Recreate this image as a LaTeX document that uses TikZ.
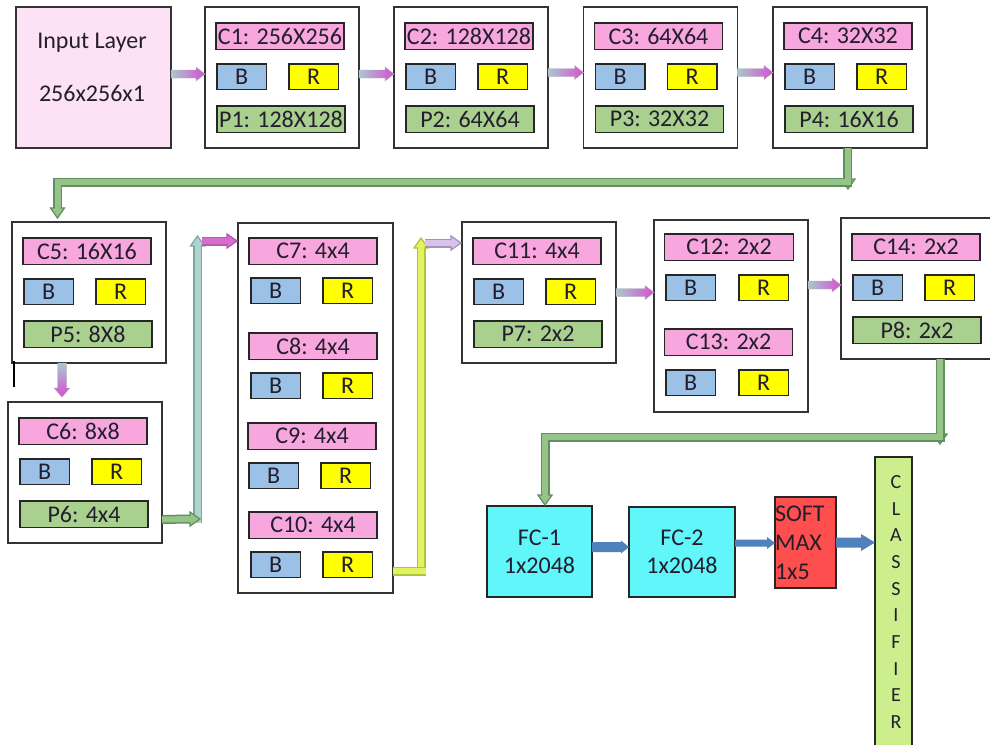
\documentclass[tikz,border=0pt]{standalone}
\usepackage{fontspec}
\setmainfont{Carlito}
\usetikzlibrary{calc}

\definecolor{inpink}{RGB}{252,226,244}
\definecolor{cpink}{RGB}{248,166,222}
\definecolor{bblue}{RGB}{155,194,230}
\definecolor{ryell}{RGB}{255,255,0}
\definecolor{pgreen}{RGB}{169,208,142}
\definecolor{fccyan}{RGB}{96,246,250}
\definecolor{smred}{RGB}{255,78,78}
\definecolor{clgreen}{RGB}{204,238,140}
\definecolor{txt}{RGB}{35,30,45}
\definecolor{arrblue}{RGB}{79,129,189}
\definecolor{gfill}{RGB}{150,195,135}
\definecolor{gdraw}{RGB}{95,145,95}
\definecolor{tfill}{RGB}{175,212,205}
\definecolor{tdraw}{RGB}{120,170,160}
\definecolor{mfill}{RGB}{215,110,205}
\definecolor{mdraw}{RGB}{185,90,175}
\definecolor{yfill}{RGB}{228,242,95}
\definecolor{ydraw}{RGB}{170,200,60}
\definecolor{lfill}{RGB}{218,195,235}
\definecolor{ldraw}{RGB}{165,145,190}
\definecolor{gradL}{RGB}{170,200,205}
\definecolor{gradR}{RGB}{212,80,212}

\tikzset{
 every node/.style={inner sep=0pt, outer sep=0pt, text=txt, font=\fontsize{24}{28}\selectfont},
 box/.style={draw=black!80, line width=1.4pt, fill=white, anchor=north west, minimum width=154pt},
 lbl/.style={draw=black!85, line width=1.1pt, anchor=north west},
 clbl/.style={lbl, fill=cpink, minimum width=128pt, minimum height=26.5pt},
 plbl/.style={lbl, fill=pgreen, minimum width=128pt, minimum height=26.5pt},
 blbl/.style={lbl, fill=bblue, minimum width=49.5pt, minimum height=25.5pt},
 rlbl/.style={lbl, fill=ryell, minimum width=49.5pt, minimum height=25.5pt},
 fcbox/.style={draw=black!85, line width=1.3pt, fill=fccyan, anchor=north west, align=center, font=\fontsize{24}{28}\selectfont},
}

\newcommand\convblk[5]{%
 \node[box, minimum height=141pt] (#1) at (#2,#3) {};
 \node[clbl] (#1c) at ($(#1.north west)+(11pt,-16pt)$) {#4};
 \node[blbl] (#1b) at ($(#1.north west)+(12pt,-57pt)$) {B};
 \node[rlbl] (#1r) at ($(#1.north west)+(84pt,-57pt)$) {R};
 \node[plbl] (#1p) at ($(#1.north west)+(12pt,-99pt)$) {#5};
}

\newcommand\garrowH[2]{%
 \shadedraw[left color=gradL, right color=gradR, draw=black!30, line width=0.4pt] let \p1=(#1), \p2=(#2) in
 (\x1,\y1+4pt) -- (\x2-9pt,\y1+4pt) -- (\x2-9pt,\y1+7pt) -- (\x2,\y1) -- (\x2-9pt,\y1-7pt) -- (\x2-9pt,\y1-4pt) -- (\x1,\y1-4pt) -- cycle;}

\newcommand\garrowV[2]{%
 \shadedraw[top color=gradL, bottom color=gradR, draw=black!30, line width=0.4pt] let \p1=(#1), \p2=(#2) in
 (\x1-4.5pt,\y1) -- (\x1-4.5pt,\y2+9pt) -- (\x1-8pt,\y2+9pt) -- (\x1,\y2) -- (\x1+8pt,\y2+9pt) -- (\x1+4.5pt,\y2+9pt) -- (\x1+4.5pt,\y1) -- cycle;}

\newcommand\bline[3]{\draw[line width=9pt,#1] #3; \draw[line width=6pt,#2] #3;}

\newcommand\bhead[4]{%
 \fill[#3,shift={(#1)},rotate=#2] (0.5pt,0) -- (-10pt,7.5pt) -- (-10pt,-7.5pt) -- cycle;
 \draw[#4,line width=1.2pt,line join=miter,shift={(#1)},rotate=#2] (-10pt,3pt) -- (-10pt,7pt) -- (0,0) -- (-10pt,-7pt) -- (-10pt,-3pt);}

\newcommand\barrow[5]{%
 \fill[arrblue] let \p1=(#1), \p2=(#2) in (\x1,\y1+#3) -- (\x2-#5,\y1+#3) -- (\x2-#5,\y1+#4) -- (\x2,\y1) -- (\x2-#5,\y1-#4) -- (\x2-#5,\y1-#3) -- (\x1,\y1-#3) -- cycle;}

\begin{document}
\begin{tikzpicture}[x=1pt,y=-1pt]
\useasboundingbox (0,0) rectangle (990,744);
\fill[white] (0,0) rectangle (990,744);
\clip (0,0) rectangle (990,744);

% top row
\node[box, fill=inpink, minimum width=155pt, minimum height=141pt] (inp) at (16,7) {};
\node (inpt1) at (92,43) {Input Layer};
\node (inpt2) at (92,93) {256x256x1};
\convblk{b1}{205}{7}{C1: 256X256}{P1: 128X128}
\convblk{b2}{394}{7}{C2: 128X128}{P2: 64X64}
\convblk{b3}{583.5}{7}{C3: 64X64}{P3: 32X32}
\convblk{b4}{773}{7}{C4: 32X32}{P4: 16X16}

% left column
\convblk{b5}{12}{222}{C5: 16X16}{P5: 8X8}
\convblk{b6}{8}{402}{C6: 8x8}{P6: 4x4}
\draw[line width=1.8pt, black] (14,361) -- (14,387);

% box 7
\node[box, minimum width=155pt, minimum height=370pt] (b7) at (238,223) {};
\node[clbl] (c7) at (249,238) {C7: 4x4};
\node[blbl] (c7b) at (251,278) {B};
\node[rlbl] (c7r) at (323,278) {R};
\node[clbl] (c8) at (249,333) {C8: 4x4};
\node[blbl] (c8b) at (251,373) {B};
\node[rlbl] (c8r) at (323,373) {R};
\node[clbl] (c9) at (248,423) {C9: 4x4};
\node[blbl] (c9b) at (249,463) {B};
\node[rlbl] (c9r) at (321,463) {R};
\node[clbl] (c10) at (249,512) {C10: 4x4};
\node[blbl] (c10b) at (251,552) {B};
\node[rlbl] (c10r) at (323,552) {R};

% box 11, 12, 14
\convblk{b11}{462}{222}{C11: 4x4}{P7: 2x2}
\node[box, minimum height=192pt] (b12) at (654,220) {};
\node[clbl, minimum width=129pt] (c12) at (664.5,234) {C12: 2x2};
\node[blbl] (c12b) at (666,275) {B};
\node[rlbl] (c12r) at (739,275) {R};
\node[clbl] (c13) at (664.5,329) {C13: 2x2};
\node[blbl] (c13b) at (666,370) {B};
\node[rlbl] (c13r) at (739,370) {R};
\convblk{b14}{841}{218}{C14: 2x2}{P8: 2x2}

% bottom
\node[fcbox, minimum width=105pt, minimum height=91pt] (fc1) at (487,506) {FC-1\\1x2048};
\node[fcbox, minimum width=106pt, minimum height=90pt] (fc2) at (629,507) {FC-2\\1x2048};
\node[draw=black!85, line width=1.3pt, fill=smred, anchor=north west, minimum width=61pt, minimum height=91pt, text width=61pt, align=left, font=\fontsize{24}{29}\selectfont] (sm) at (775,497) {SOFT\\MAX\\1x5};
\node[draw=black!85, line width=1.3pt, fill=clgreen, anchor=north west, minimum width=37pt, minimum height=300pt] (cls) at (875,457) {};
\node[align=center, font=\fontsize{20}{26.7}\selectfont] (clst) at (896,602) {C\\L\\A\\S\\S\\I\\F\\I\\E\\R};

% gradient arrows
\garrowH{[yshift=3.5pt]inp.east}{b1.west}
\garrowH{[yshift=3.5pt]b1.east}{b2.west}
\garrowH{[yshift=5pt]b2.east}{b3.west}
\garrowH{[yshift=5pt]b3.east}{b4.west}
\garrowH{b11.east}{b12.west}
\garrowH{[yshift=31pt]b12.east}{b14.west}
\garrowV{[xshift=-27pt]b5.south}{[yshift=5pt]b6.north}

% green arrow b4 -> b5
\coordinate (g1a) at (847.5,182);
\coordinate (g1b) at (57.5,182);
\bhead{848,189}{-90}{gfill}{gdraw}
\bline{gdraw}{gfill}{([xshift=-2.5pt]b4.south) -- (g1a) -- (g1b) -- ([xshift=-31.5pt,yshift=14pt]b5.north)}
\bhead{[xshift=-31.5pt,yshift=4pt]b5.north}{-90}{gfill}{gdraw}

% arrow b6 -> b7
\coordinate (g2v1) at (197.5,523);
\coordinate (g2v2) at (197.5,246);
\coordinate (g2vt) at (197.5,236);
\coordinate (g2c) at (201.5,241);
\coordinate (g2h) at (190,519);
\coordinate (g2t) at (200,519);
\bline{tdraw}{tfill}{(g2v1) -- (g2v2)}
\bhead{g2vt}{90}{tfill}{tdraw}
\bline{mdraw}{mfill}{(g2c) -- ([yshift=167pt,xshift=-11pt]b7.west)}
\bhead{[yshift=167pt,xshift=-1pt]b7.west}{0}{mfill}{mdraw}
\bline{gdraw}{gfill}{([yshift=-47pt]b6.east) -- (g2h)}
\bhead{g2t}{0}{gfill}{gdraw}

% yellow arrow b7 -> b11
\coordinate (y1a) at (425.5,571);
\coordinate (y1v1) at (421,575);
\coordinate (y1v2) at (421,248);
\coordinate (y1vt) at (421,238);
\coordinate (y1c) at (425,243);
\bline{ydraw}{yfill}{(y1v1) -- (y1v2)}
\bhead{y1vt}{90}{yfill}{ydraw}
\bline{ydraw}{yfill}{([yshift=-163pt]b7.east) -- (y1a)}
\bline{ldraw}{lfill}{(y1c) -- ([yshift=49.5pt,xshift=-11pt]b11.west)}
\bhead{[yshift=49.5pt,xshift=-1pt]b11.west}{0}{lfill}{ldraw}

% green arrow b14 -> fc1
\coordinate (g3a) at (940,437);
\coordinate (g3b) at (545,437);
\bhead{940,444}{-90}{gfill}{gdraw}
\bline{gdraw}{gfill}{([xshift=22pt]b14.south) -- (g3a) -- (g3b) -- ([xshift=5.5pt,yshift=11pt]fc1.north)}
\bhead{[xshift=5.5pt,yshift=1pt]fc1.north}{-90}{gfill}{gdraw}

% blue arrows
\barrow{[yshift=4.5pt]fc1.east}{fc2.west}{5pt}{6.5pt}{8pt}
\barrow{[yshift=9pt]fc2.east}{sm.west}{3.5pt}{6pt}{8pt}
\barrow{sm.east}{cls.west}{5pt}{8.5pt}{14pt}
\end{tikzpicture}
\end{document}
